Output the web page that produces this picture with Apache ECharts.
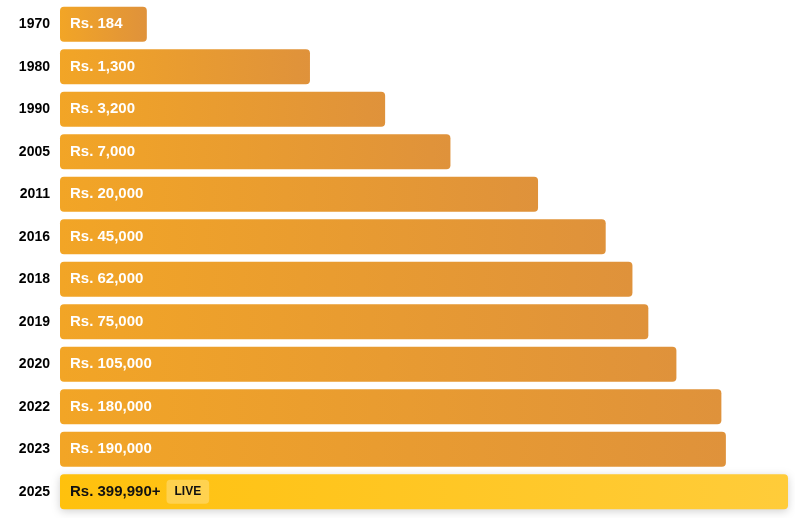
<!DOCTYPE html>
<html>
<head>
<meta charset="utf-8">
<script src="https://cdn.jsdelivr.net/npm/echarts@6/dist/echarts.min.js"></script>
<style>html,body{margin:0;padding:0;background:#fff;}#c{width:795px;height:518px;}</style>
</head>
<body>
<div id="c"></div>
<script>
const years = ['1970','1980','1990','2005','2011','2016','2018','2019','2020','2022','2023','2025'];
const prices = [184, 1300, 3200, 7000, 20000, 45000, 62000, 75000, 105000, 180000, 190000, 399990];
const priceLabels = ['Rs. 184','Rs. 1,300','Rs. 3,200','Rs. 7,000','Rs. 20,000','Rs. 45,000','Rs. 62,000','Rs. 75,000','Rs. 105,000','Rs. 180,000','Rs. 190,000','Rs. 399,990+'];
const liveIndex = 11;

const FONT = 'Liberation Sans, Arial, sans-serif';
const chart = echarts.init(document.getElementById('c'), null, {renderer: 'canvas'});
const orange = new echarts.graphic.LinearGradient(0, 0, 1, 0, [
  {offset: 0, color: '#F2A526'}, {offset: 1, color: '#DF923B'}
]);
const yellow = new echarts.graphic.LinearGradient(0, 0, 1, 0, [
  {offset: 0, color: '#FFC10D'}, {offset: 1, color: '#FFCC3A'}
]);
const data = prices.map((v, i) => {
  if (i === liveIndex) {
    return {
      value: v,
      itemStyle: {color: yellow, shadowBlur: 8, shadowColor: 'rgba(0,0,0,0.18)', shadowOffsetY: 2},
      label: {
        formatter: '{v|' + priceLabels[i] + '}{g|}{live|LIVE}',
        rich: {
          v: {color: '#111', fontWeight: 'bold', fontSize: 15, fontFamily: FONT},
          g: {width: 6},
          live: {color: '#111', fontSize: 12, fontWeight: 'bold', fontFamily: FONT,
                 backgroundColor: 'rgba(255,255,255,0.25)', padding: [6, 8, 6, 8], borderRadius: 4}
        }
      }
    };
  }
  return {value: v, itemStyle: {color: orange}};
});

chart.setOption({
  animation: false,
  grid: {left: 60, right: 7, top: 3, bottom: 5, containLabel: false},
  xAxis: {type: 'log', min: 65, max: 399990, show: false, logBase: 10},
  yAxis: {
    type: 'category', data: years, inverse: true,
    axisLine: {show: false}, axisTick: {show: false},
    axisLabel: {color: '#000', fontWeight: 'bold', fontSize: 14, margin: 10, fontFamily: FONT}
  },
  series: [{
    type: 'bar',
    data: data,
    barWidth: 35,
    itemStyle: {borderRadius: 4},
    label: {
      show: true, position: 'insideLeft', distance: 10,
      formatter: p => priceLabels[p.dataIndex],
      color: '#fff', fontWeight: 'bold', fontSize: 15,
      fontFamily: FONT
    }
  }]
});
</script>
</body>
</html>
